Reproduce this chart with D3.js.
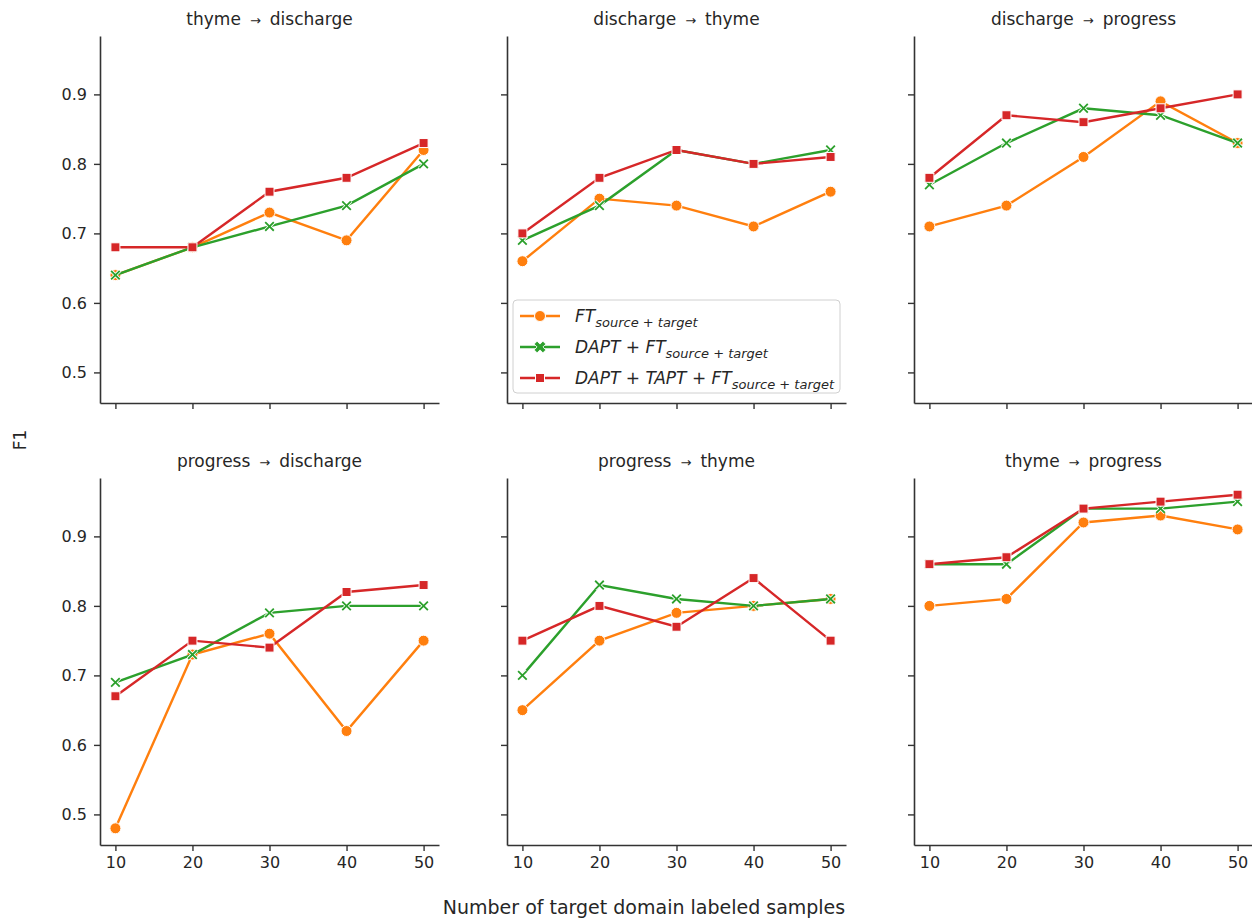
<!DOCTYPE html>
<meta charset="utf-8">
<script src="https://d3js.org/d3.v7.min.js"></script>
<style>
  body { margin: 0; background: #fff; }
  text { font-family: "DejaVu Sans", sans-serif; fill: #262626; }
</style>
<body>
<svg id="svg" width="1252" height="921"></svg>
<script>
// panels, in reading order: [source, target]
var panels = [["thyme", "discharge"], ["discharge", "thyme"], ["discharge", "progress"],
              ["progress", "discharge"], ["progress", "thyme"], ["thyme", "progress"]];
var samples = [10, 20, 30, 40, 50];
var seriesNames = ["FT", "DAPT + FT", "DAPT + TAPT + FT"];
var yTicks = [0.5, 0.6, 0.7, 0.8, 0.9];

// F1 per panel, one value per sample count
var ft = [
  [0.64, 0.68, 0.73, 0.69, 0.82],
  [0.66, 0.75, 0.74, 0.71, 0.76],
  [0.71, 0.74, 0.81, 0.89, 0.83],
  [0.48, 0.73, 0.76, 0.62, 0.75],
  [0.65, 0.75, 0.79, 0.80, 0.81],
  [0.80, 0.81, 0.92, 0.93, 0.91]
];
var dapt = [
  [0.64, 0.68, 0.71, 0.74, 0.80],
  [0.69, 0.74, 0.82, 0.80, 0.82],
  [0.77, 0.83, 0.88, 0.87, 0.83],
  [0.69, 0.73, 0.79, 0.80, 0.80],
  [0.70, 0.83, 0.81, 0.80, 0.81],
  [0.86, 0.86, 0.94, 0.94, 0.95]
];
var tapt = [
  [0.68, 0.68, 0.76, 0.78, 0.83],
  [0.70, 0.78, 0.82, 0.80, 0.81],
  [0.78, 0.87, 0.86, 0.88, 0.90],
  [0.67, 0.75, 0.74, 0.82, 0.83],
  [0.75, 0.80, 0.77, 0.84, 0.75],
  [0.86, 0.87, 0.94, 0.95, 0.96]
];

var colors = ["#ff7f0e", "#2ca02c", "#d62728"];
var allSeries = [ft, dapt, tapt];

var svg = d3.select("svg");
var colX = [100, 507, 914], rowY = [36, 478];
var pw = 339, ph = 367;

var x = d3.scaleLinear().domain([8, 52]).range([0, pw]);
var y = d3.scaleLinear().domain([0.456, 0.984]).range([ph, 0]);

function marker(g, kind, color, filledX) {
  if (kind == 0) {
    g.append("circle").attr("r", 5.5).attr("fill", color).attr("stroke", "#fff").attr("stroke-width", 1);
  } else if (kind == 1) {
    if (filledX) {
      g.append("path").attr("d", d3.symbol().type(d3.symbolCross).size(85))
        .attr("transform", "rotate(45)")
        .attr("fill", color).attr("stroke", "#fff").attr("stroke-width", 0.8);
    } else {
      g.append("path").attr("d", d3.symbol().type(d3.symbolTimes).size(50))
        .attr("fill", "none").attr("stroke", "#fff").attr("stroke-width", 3.5);
      g.append("path").attr("d", d3.symbol().type(d3.symbolTimes).size(50))
        .attr("fill", "none").attr("stroke", color).attr("stroke-width", 1.8);
    }
  } else {
    g.append("rect").attr("x", -4.5).attr("y", -4.5).attr("width", 9).attr("height", 9)
      .attr("fill", color).attr("stroke", "#fff").attr("stroke-width", 1);
  }
}

panels.forEach(function(pair, p) {
  var c = p % 3, r = Math.floor(p / 3);
  var g = svg.append("g").attr("transform", "translate(" + colX[c] + "," + rowY[r] + ")");

  var ya = d3.axisLeft(y).tickValues(yTicks).tickSize(6).tickSizeOuter(0).tickPadding(7)
    .tickFormat(c == 0 ? d3.format(".1f") : "");
  var xa = d3.axisBottom(x).tickValues(samples).tickSize(6).tickSizeOuter(0).tickPadding(6)
    .tickFormat(r == 1 ? d3.format("d") : "");

  var gy = g.append("g").call(ya);
  var gx = g.append("g").attr("transform", "translate(0," + ph + ")").call(xa);
  [gx, gy].forEach(function(a) {
    a.select(".domain").attr("stroke", "#333").attr("stroke-width", 1.6);
    a.selectAll(".tick line").attr("stroke", "#333").attr("stroke-width", 1.4);
    a.selectAll("text").style("font-size", "16px").attr("fill", "#262626");
  });

  var t = g.append("text").attr("x", pw / 2).attr("y", -11).attr("text-anchor", "middle")
    .style("font-size", "17px");
  t.append("tspan").text(pair[0]);
  t.append("tspan").attr("dx", 9).style("font-size", "13px").text("\u2192");
  t.append("tspan").attr("dx", 9).text(pair[1]);

  allSeries.forEach(function(s, k) {
    var vals = s[p];
    var line = d3.line().x(function(d, i) { return x(samples[i]); }).y(function(d) { return y(d); });
    g.append("path").datum(vals).attr("d", line).attr("fill", "none")
      .attr("stroke", colors[k]).attr("stroke-width", 2.4);
    vals.forEach(function(v, i) {
      marker(g.append("g").attr("transform", "translate(" + x(samples[i]) + "," + y(v) + ")"), k, colors[k]);
    });
  });
});

// legend in the top middle panel
var lg = svg.append("g").attr("transform", "translate(513,300)");
lg.append("rect").attr("width", 327).attr("height", 93).attr("rx", 4)
  .attr("fill", "#fff").attr("fill-opacity", 0.85).attr("stroke", "#d0d0d0");
seriesNames.forEach(function(name, k) {
  var ly = 16 + k * 31;
  lg.append("line").attr("x1", 7).attr("x2", 47).attr("y1", ly).attr("y2", ly)
    .attr("stroke", colors[k]).attr("stroke-width", 2.4);
  marker(lg.append("g").attr("transform", "translate(27," + ly + ")"), k, colors[k], true);
  var t = lg.append("text").attr("x", 62).attr("y", ly + 6).style("font-size", "17px")
    .style("font-style", "italic").attr("fill", "#1a1a1a");
  t.append("tspan").text(name);
  t.append("tspan").attr("dy", 5).style("font-size", "13px").text("source + target");
});

svg.append("text").attr("transform", "translate(26,440) rotate(-90)")
  .attr("text-anchor", "middle").style("font-size", "17px").text("F1");
svg.append("text").attr("x", 644).attr("y", 914).attr("text-anchor", "middle")
  .style("font-size", "19px").text("Number of target domain labeled samples");
</script>
</body>
